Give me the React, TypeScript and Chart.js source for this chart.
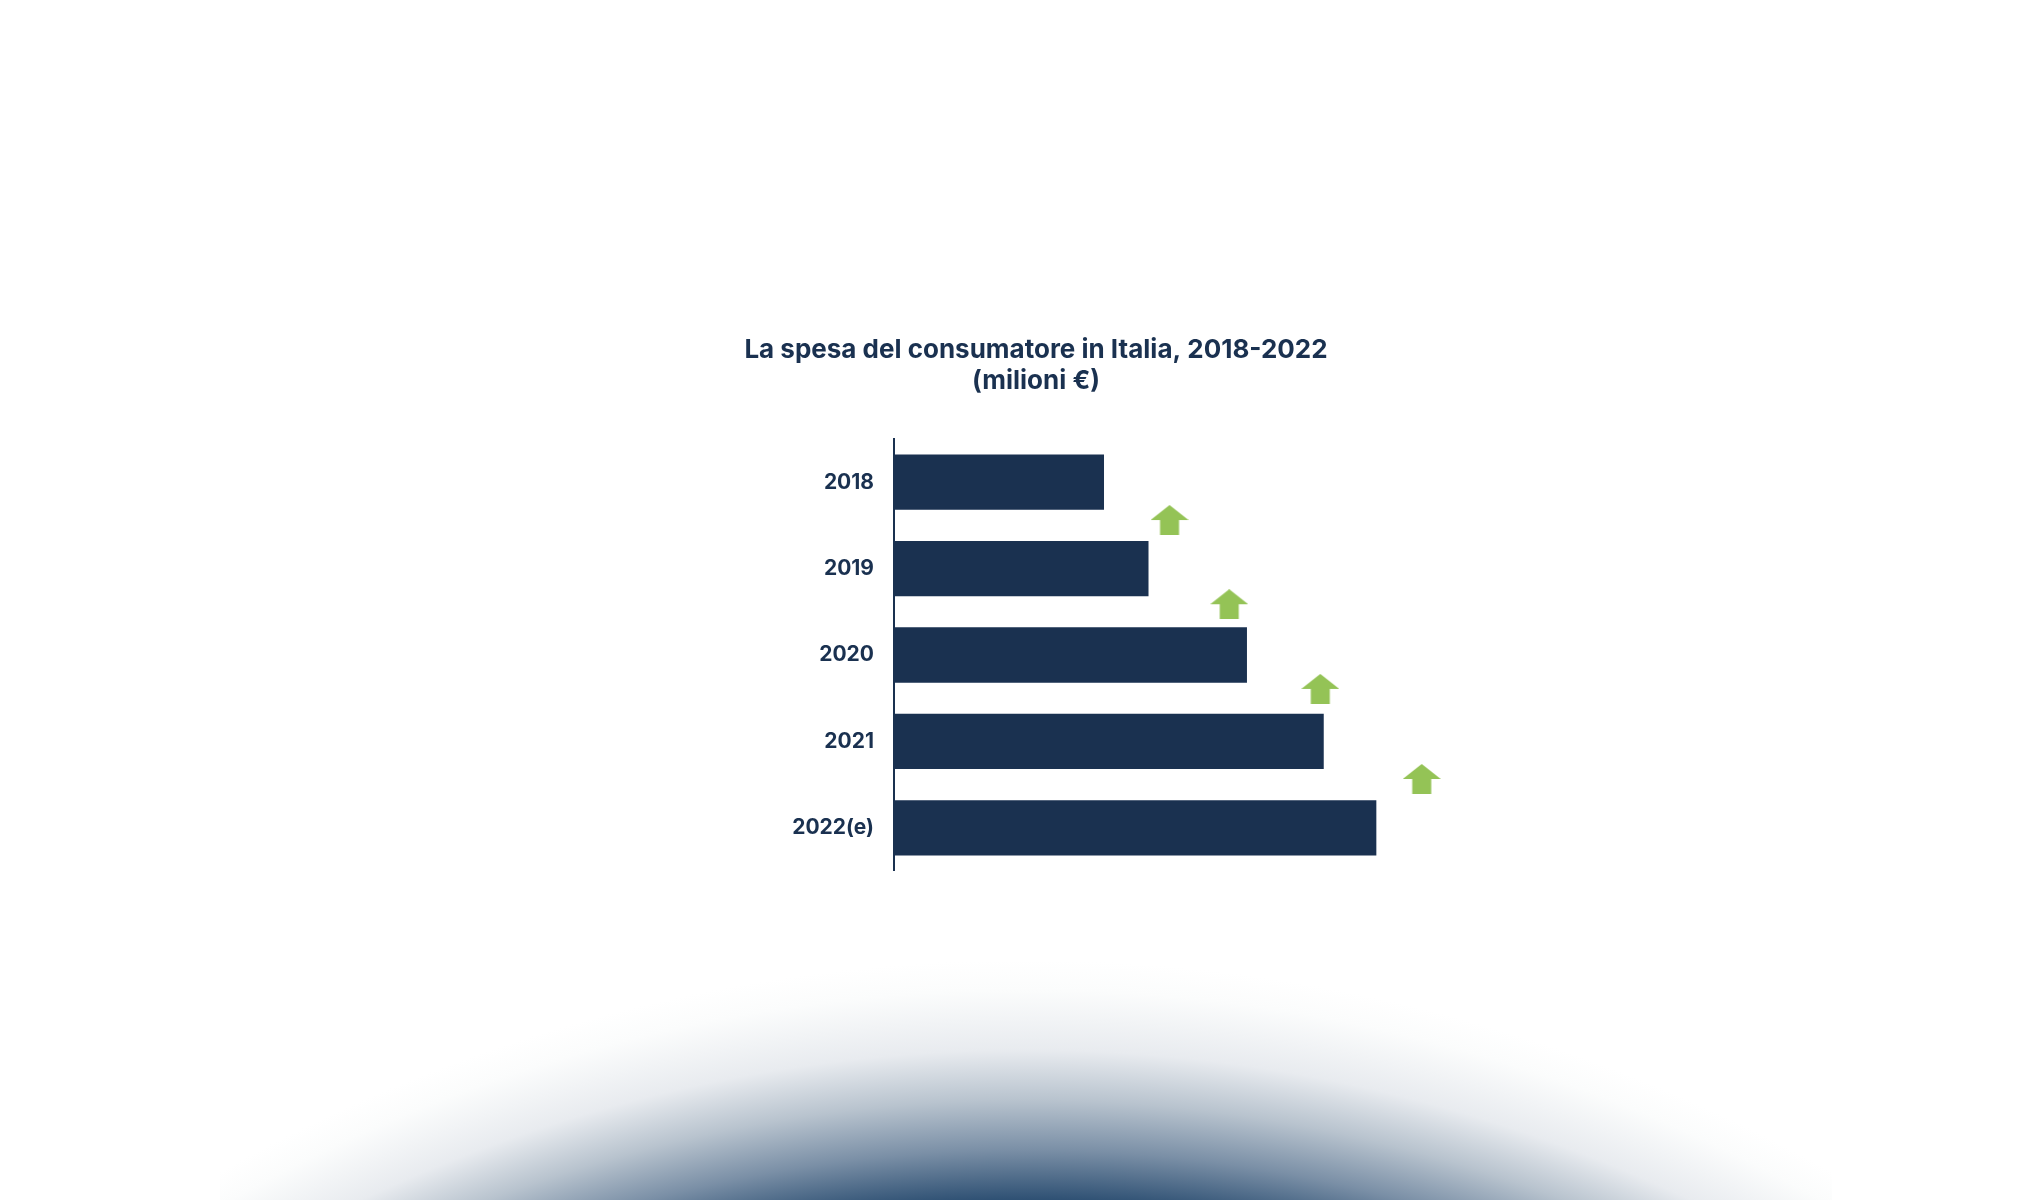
import { useEffect, useRef } from "react";
import { Chart, registerables } from "chart.js";
Chart.register(...registerables);

const years = ["2018", "2019", "2020", "2021", "2022(e)"];
const spending = [2180, 2642, 3664, 4461, 5007];

// green "up" arrows that sit between the bars
const arrowX = [2860, 3480, 4425, 5478];
const arrowY = [0.438, 1.412, 2.392, 3.435];

const NAVY = "#1a3150";
const GREEN = "#94c356";
const FONT = "Inter, 'Open Sans', sans-serif";

function makeArrow() {
  const c = document.createElement("canvas");
  c.width = 38;
  c.height = 30;
  const ctx = c.getContext("2d")!;
  ctx.fillStyle = GREEN;
  ctx.beginPath();
  ctx.moveTo(0, 15);
  ctx.lineTo(19, 0);
  ctx.lineTo(38, 15);
  ctx.closePath();
  ctx.fill();
  ctx.fillRect(9.5, 15, 19, 15);
  return c;
}

export default function App() {
  const chartRef = useRef<HTMLCanvasElement>(null);
  const chartInstance = useRef<Chart | null>(null);

  useEffect(() => {
    if (!chartRef.current) return;
    if (chartInstance.current) chartInstance.current.destroy();

    const arrow = makeArrow();

    chartInstance.current = new Chart(chartRef.current, {
      type: "bar",
      data: {
        labels: years,
        datasets: [
          {
            type: "bar",
            indexAxis: "y",
            grouped: false,
            data: spending,
            backgroundColor: NAVY,
            borderWidth: 0,
            categoryPercentage: 1,
            barPercentage: 0.64,
            xAxisID: "x",
            yAxisID: "y",
          } as any,
          {
            type: "scatter",
            data: arrowX.map((x, i) => ({ x, y: arrowY[i] })),
            pointStyle: arrow,
            pointRadius: 15,
            xAxisID: "x",
            yAxisID: "y2",
          } as any,
        ],
      },
      options: {
        animation: false,
        responsive: false,
        events: [],
        layout: { padding: 0, autoPadding: false },
        plugins: {
          legend: { display: false },
          tooltip: { enabled: false },
          title: {
            display: true,
            text: ["La spesa del consumatore in Italia, 2018-2022", "(milioni €)"],
            color: NAVY,
            font: { family: FONT, size: 26, weight: "bold", lineHeight: 1.16 },
            padding: { top: 15.5, bottom: 43.2 },
          },
        },
        scales: {
          x: {
            type: "linear",
            position: "bottom",
            offset: false,
            grid: { offset: false },
            min: 0,
            max: 6000,
            display: false,
          },
          y: {
            type: "category",
            position: "left",
            offset: true,
            grid: { display: false, drawTicks: false, offset: true },
            border: { display: true, color: NAVY, width: 2 },
            ticks: {
              color: NAVY,
              padding: 20,
              font: { family: FONT, size: 21, weight: "bold" },
            },
            afterFit: (scale: any) => {
              scale.width = 294;
              scale.paddingTop = 0;
              scale.paddingBottom = 0;
              scale.paddingLeft = 0;
              scale.paddingRight = 0;
            },
          },
          y2: {
            type: "linear",
            axis: "y",
            position: "right",
            offset: false,
            grid: { offset: false },
            min: -0.5,
            max: 4.5,
            reverse: true,
            display: false,
          },
        },
      },
    });

    return () => {
      chartInstance.current?.destroy();
      chartInstance.current = null;
    };
  }, []);

  return (
    <div
      style={{
        position: "fixed",
        left: 0,
        top: 0,
        width: 2040,
        height: 1200,
        background: "#ffffff",
        overflow: "hidden",
      }}
    >
      <div
        style={{
          position: "absolute",
          left: 220,
          top: 900,
          width: 1612,
          height: 300,
          background:
            "radial-gradient(circle 1640px at 806px 1700px, #284a6e 1380px, #2e5073 1400px, #7a8fa6 1450px, #b8c3ce 1500px, #e8ebef 1550px, #fbfcfc 1610px, #ffffff 1640px)",
        }}
      />
      <div style={{ position: "absolute", left: 600, top: 320, width: 872, height: 551 }}>
        <canvas ref={chartRef} width={872} height={551} style={{ width: 872, height: 551 }}></canvas>
      </div>
    </div>
  );
}
